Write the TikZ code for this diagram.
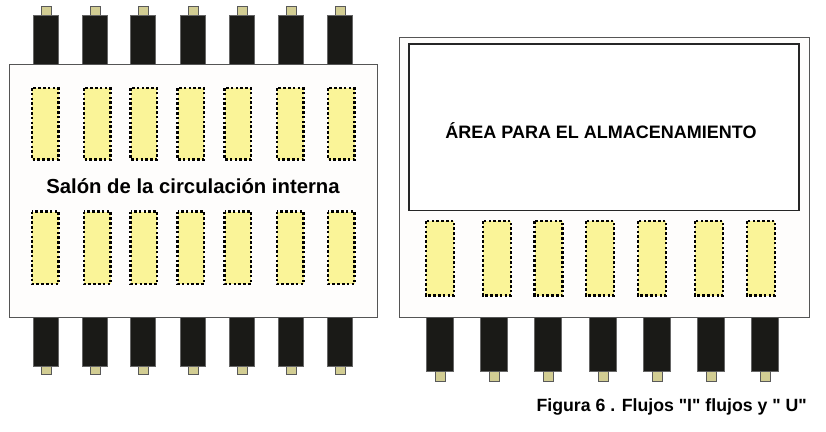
\documentclass[tikz,border=0pt]{standalone}
\usepackage{fontspec}
\newfontfamily\plainsans{Liberation Sans}
\definecolor{blk}{HTML}{1A1A17}
\definecolor{tan}{HTML}{D2CD93}
\definecolor{yel}{HTML}{FAF498}
\definecolor{edge}{HTML}{555555}
\definecolor{paper}{HTML}{FEFDFC}
\tikzset{
  panel/.style={draw=edge,fill=paper,line width=0.9pt},
  dock/.style={fill=blk,draw=black!60,line width=0.4pt},
  stub/.style={fill=tan,draw=black!65,line width=0.6pt},
  zone/.style={fill=yel,draw=black,line width=2.5pt,dash pattern=on 2.6pt off 2.2pt},
  lbl/.style={text=black,inner sep=0pt}
}
\begin{document}
\begin{tikzpicture}[x=1pt,y=-1pt]
\useasboundingbox (0,0) rectangle (826,431);
\fill[white] (0,0) rectangle (826,431);
% left docks
\foreach \x in {33,82,130.5,180,229,278,327}{
  \draw[stub] (\x+8,6.5) rectangle (\x+18,15);
  \draw[dock] (\x,15) rectangle (\x+25,65);
  \draw[stub] (\x+8,365) rectangle (\x+18,374);
  \draw[dock] (\x,316) rectangle (\x+25,366);
}
\draw[panel] (9.5,64) rectangle (377,317);
\foreach \x in {32,84,130.5,177.5,224.5,277,328}{
  \draw[zone] (\x,88) rectangle (\x+26.5,159.5);
  \draw[zone] (\x,211.5) rectangle (\x+26.5,284);
}
\node[lbl,font=\plainsans\bfseries\fontsize{20.3}{24}\selectfont] (salon) at (193,186) {Salón de la circulación interna};
% right docks
\foreach \x in {426,480,534,589,643,697,751}{
  \draw[dock] (\x,316) rectangle (\x+27.5,371.5);
  \draw[stub] (\x+9,371.5) rectangle (\x+19,381);
}
\draw[panel] (399.5,37) rectangle (809,317);
\draw[draw=black!85,fill=white,line width=1.1pt] (409,44) rectangle (799,210.5);
\node[lbl,font=\plainsans\bfseries\fontsize{18}{21}\selectfont] (area) at (601,131) {ÁREA PARA EL ALMACENAMIENTO};
\foreach \x in {426,483,534.5,586,638,695,747}{
  \draw[zone] (\x,221) rectangle (\x+28,295.5);
}
\node[lbl,anchor=east,font=\plainsans\bfseries\fontsize{17.7}{20}\selectfont] (fig) at (807,407) {Figura 6 . Flujos "I" flujos y " U"};
\end{tikzpicture}
\end{document}
